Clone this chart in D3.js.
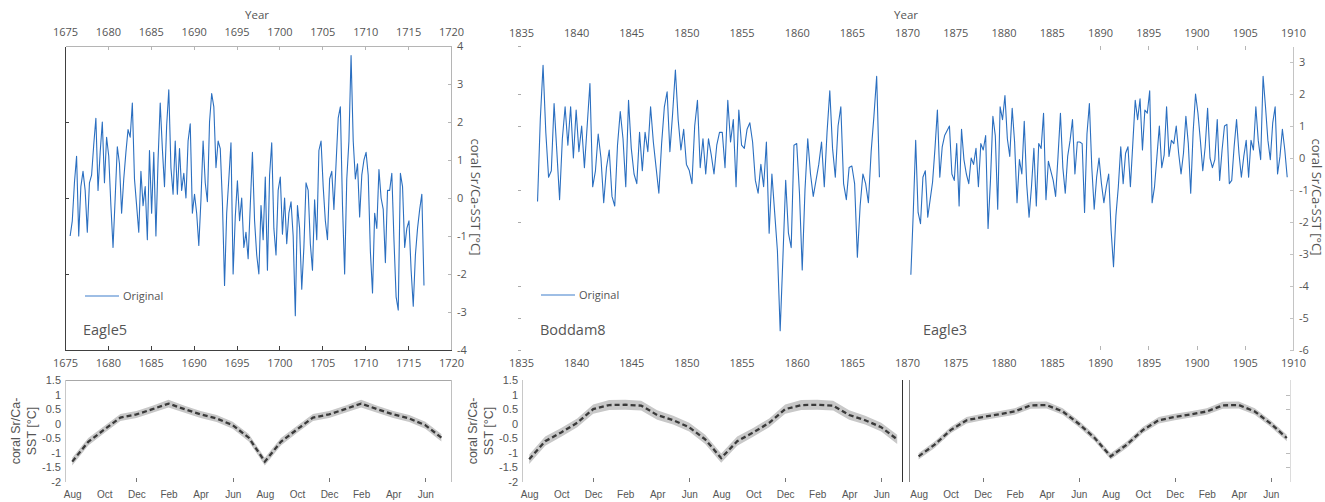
<!DOCTYPE html>
<html>
<head>
<meta charset="utf-8">
<script src="https://cdnjs.cloudflare.com/ajax/libs/d3/7.8.5/d3.min.js"></script>
<style>
	body { margin: 0; background: #fff; }
	svg { display: block; }
</style>
</head>
<body>
<div id="chart"></div>
<script>
///////////////////////////////////////////////////////////////////////////
/////////////////////////////// Data //////////////////////////////////////
///////////////////////////////////////////////////////////////////////////

//Quarterly coral Sr/Ca-SST anomalies
var stepYears = 0.25;
var eagle5Start = 1675.6, boddam8Start = 1836.5, eagle3Start = 1870.4;

var eagle5Sst = [
	-1.0, -0.6, 0.4, 1.1, -1.0, 0.3, 0.7, 0.2, -0.9, 0.4,
	0.6, 1.4, 2.1, 0.2, 1.2, 2.0, 0.4, 1.6, 1.1, -0.2,
	-1.3, 0.0, 1.35, 0.9, -0.4, 0.5, 1.2, 1.8, 1.6, 2.5,
	0.5, -0.2, -0.9, 0.7, -0.2, 0.3, -1.1, 1.25, -0.4, 1.2,
	-1.0, 1.0, 2.5, 1.3, 0.3, 1.9, 2.85, 0.8, 0.1, 1.5,
	0.1, 1.3, 0.2, 0.65, 0.0, 1.5, 1.95, -0.4, 0.1, -0.4,
	-1.25, -0.05, 1.5, 0.4, -0.1, 2.0, 2.75, 2.4, 0.8, 1.5,
	1.3, -0.1, -2.3, -0.4, 0.5, 1.45, -2.0, -0.5, 0.45, -0.6,
	0.0, -1.3, -0.9, -1.6, -0.2, 1.2, -0.6, -1.5, -2.0, -0.2,
	-1.1, 0.55, -1.9, 0.6, 1.45, -0.8, -1.5, 0.2, 0.55, -0.95,
	0.0, -1.2, -0.4, -0.1, -1.0, -3.1, -0.2, -0.8, -2.4, -1.3,
	0.4, 0.2, -1.2, -1.9, -0.05, -1.1, 1.25, 1.5, 0.3, -0.6,
	-1.1, 0.5, 0.7, -0.3, 0.9, 2.1, 2.4, -0.2, -2.0, 0.5,
	1.5, 3.75, 1.5, 0.5, 0.9, -0.5, 0.6, 1.0, 1.2, 0.6,
	-1.4, -2.5, -0.4, -0.8, 0.75, 0.0, -0.3, -1.7, 0.2, 0.2,
	0.65, -1.1, -2.6, -2.95, 0.65, 0.3, -1.3, -0.8, -0.6, -1.9,
	-2.85, -1.5, -0.8, -0.3, 0.1, -2.3
];

var boddam8Sst = [
	-1.36, 1.2, 2.9, 0.8, -0.6, -0.4, 1.7, 0.2, -1.3, 0.6,
	1.6, 0.4, 1.6, 0.0, 1.5, 0.2, 1.0, -0.3, 1.0, 2.33,
	-0.9, -0.4, 0.75, 0.0, -1.4, -0.3, 0.25, -1.2, -1.5, 0.4,
	1.45, 0.6, -0.9, 1.8, 0.3, -0.5, -0.8, 0.8, -0.4, 0.8,
	0.2, 1.6, 0.5, -0.3, -1.1, 0.45, 1.6, 2.07, 0.2, 1.4,
	2.75, 1.2, 0.25, 0.9, -0.2, -0.38, -0.8, 1.0, 1.8, -0.3,
	0.6, -0.5, 0.6, 0.1, -0.5, 0.4, 0.8, 0.8, -0.3, 1.8,
	0.5, 1.2, -0.9, 1.5, 0.4, 0.3, 0.9, 1.1, 0.5, -0.7,
	-1.1, -0.2, -0.9, 0.5, -2.35, -0.5, -1.7, -2.9, -5.4, -3.1,
	-0.7, -2.35, -2.8, 0.4, 0.45, -1.1, -3.5, -1.0, 0.6, -0.5,
	-1.2, -0.7, -0.2, 0.5, -0.9, 0.8, 2.1, 0.3, -0.6, 1.0,
	1.6, -0.8, -1.3, -0.3, -0.25, -0.8, -3.1, -1.5, -0.5, -0.8,
	-1.4, 0.2, 1.3, 2.55, -0.6
];

var eagle3Sst = [
	-3.65, -1.7, 0.55, -1.7, -2.05, -0.6, -0.4, -1.85, -1.3, -0.75,
	0.3, 1.5, -0.6, 0.35, 0.7, 0.85, 1.0, -0.5, -0.7, 0.45,
	-1.5, 0.9, -0.05, -0.5, -0.8, 0.0, -0.2, 0.3, -0.9, 0.45,
	0.25, 0.7, -2.2, -0.7, 1.3, 0.7, -1.6, 1.6, 1.2, 1.95,
	0.6, 0.05, 1.55, 0.5, -1.4, -0.05, -0.5, 1.15, -0.8, -1.85,
	-0.9, 0.3, -1.5, 0.45, 0.3, 1.4, -1.3, -0.1, -0.4, -0.7,
	-1.2, 0.05, 1.4, -0.3, -1.1, 0.05, 0.55, 1.2, -0.5, 0.5,
	0.5, 0.45, -1.7, 0.75, 1.7, -0.3, -1.6, -0.6, 0.0, -0.8,
	-1.4, -0.9, -0.5, -2.25, -3.4, -1.8, -0.9, 0.35, -0.8, 0.15,
	0.35, -0.9, 0.45, 1.8, 1.2, 1.85, 0.25, 1.5, 1.4, 2.1,
	-1.4, -0.9, 0.05, 1.0, -0.3, 0.1, 1.6, 0.05, 0.55, 0.45,
	1.0, 0.15, -0.5, 0.15, 1.3, 0.45, -1.1, 0.8, 2.0, 1.4,
	0.55, -0.4, 0.35, 1.55, 0.0, -0.3, -0.05, 1.2, -0.7, 0.25,
	1.0, 1.05, -0.8, -0.7, 0.35, 1.2, 0.15, -0.6, 0.05, 0.55,
	-0.6, 0.55, 0.25, 1.6, 0.55, -0.05, 2.55, 1.6, 0.55, -0.05,
	1.1, 1.6, -0.5, 0.05, 0.9, 0.25, -0.6
];

//Mean seasonal cycle, two cycles from August
var monthNames = ["Aug", "Sep", "Oct", "Nov", "Dec", "Jan", "Feb", "Mar", "Apr", "May", "Jun", "Jul",
	"Aug", "Sep", "Oct", "Nov", "Dec", "Jan", "Feb", "Mar", "Apr", "May", "Jun", "Jul"];

var eagle5Cycle = [-1.3, -0.62, -0.2, 0.21, 0.32, 0.5, 0.69, 0.5, 0.32, 0.18, -0.05, -0.48,
	-1.3, -0.62, -0.2, 0.21, 0.32, 0.5, 0.69, 0.5, 0.32, 0.18, -0.05, -0.48];
var eagle5CycleSd = [0.13, 0.13, 0.12, 0.12, 0.12, 0.12, 0.13, 0.12, 0.12, 0.12, 0.12, 0.13,
	0.13, 0.13, 0.12, 0.12, 0.12, 0.12, 0.13, 0.12, 0.12, 0.12, 0.12, 0.13];

var boddam8Cycle = [-1.22, -0.6, -0.3, 0.03, 0.5, 0.64, 0.65, 0.62, 0.3, 0.12, -0.12, -0.54,
	-1.18, -0.6, -0.3, 0.03, 0.5, 0.64, 0.65, 0.62, 0.3, 0.12, -0.12, -0.54];
var boddam8CycleSd = [0.16, 0.16, 0.15, 0.15, 0.16, 0.17, 0.17, 0.17, 0.16, 0.15, 0.15, 0.16,
	0.16, 0.16, 0.15, 0.15, 0.16, 0.17, 0.17, 0.17, 0.16, 0.15, 0.15, 0.16];

var eagle3Cycle = [-1.12, -0.72, -0.22, 0.12, 0.23, 0.32, 0.42, 0.63, 0.64, 0.42, 0.0, -0.49,
	-1.12, -0.72, -0.22, 0.12, 0.23, 0.32, 0.42, 0.63, 0.64, 0.42, 0.0, -0.49];
var eagle3CycleSd = [0.11, 0.11, 0.11, 0.11, 0.11, 0.11, 0.11, 0.12, 0.12, 0.11, 0.11, 0.11,
	0.11, 0.11, 0.11, 0.11, 0.11, 0.11, 0.11, 0.12, 0.12, 0.11, 0.11, 0.11];

//Tick values and labels
var eagle5YearTicks = [1675, 1680, 1685, 1690, 1695, 1700, 1705, 1710, 1715, 1720];
var boddam8YearTicks = [1835, 1840, 1845, 1850, 1855, 1860, 1865];
var eagle3YearTicks = [1870, 1875, 1880, 1885, 1890, 1895, 1900, 1905, 1910];
var eagle3TickMarks = [1890, 1895, 1900, 1905];
var eagle5SstTicks = [-4, -3, -2, -1, 0, 1, 2, 3, 4];
var eagle5LeftTicks = [-2, 0, 2];
var boddam8LeftTicks = [3.5, 2, 1, -1, -2, -4, -5, -6];
var eagle3SstTicks = [-6, -5, -4, -3, -2, -1, 0, 1, 2, 3];
var cycleTicks = [1.5, 1, 0.5, 0, -0.5, -1, -1.5, -2];
var cycleRightTicks = [1, 0.5, -1, -1.5];
var monthLabelIdx = [0, 2, 4, 6, 8, 10, 12, 14, 16, 18, 20, 22];
var monthTickIdx = [4, 10, 16, 22];

///////////////////////////////////////////////////////////////////////////
//////////////////////////// Set up the SVG ///////////////////////////////
///////////////////////////////////////////////////////////////////////////

var svg = d3.select("#chart").append("svg")
	.attr("width", 1325)
	.attr("height", 502);

var topFont = "'Open Sans', 'DejaVu Sans', sans-serif",
	cycleFont = "'Liberation Sans', Arial, sans-serif",
	textColor = "#555",
	lineBlue = "#2b6fc0";

var topTop = 46, topBottom = 350,
	cycTop = 380, cycBottom = 482;

//Scales of the three records
var xE5 = d3.scaleLinear().domain([1675, 1720]).range([65, 451]),
	yE5 = d3.scaleLinear().domain([-4, 4]).range([topBottom, topTop]);
var xB8 = d3.scaleLinear().domain([1835, 1870]).range([521, 907]),
	yB8 = d3.scaleLinear().domain([-6, 3.5]).range([topBottom, topTop]);
var xE3 = d3.scaleLinear().domain([1870, 1910]).range([907, 1293]),
	yE3 = yB8;

//Scales of the seasonal cycles
var yCyc = d3.scaleLinear().domain([-2, 1.5]).range([cycBottom, cycTop]);
var xC1 = d3.scaleLinear().domain([-0.45, 23.6]).range([65, 451]),
	xC2 = d3.scaleLinear().domain([-0.45, 23.3]).range([522, 902]),
	xC3 = d3.scaleLinear().domain([-0.6, 23.2]).range([909, 1290]);

///////////////////////////////////////////////////////////////////////////
//////////////////////////// Helper functions /////////////////////////////
///////////////////////////////////////////////////////////////////////////

//Put an axis in place and give it the right look
function addAxis(axis, tx, ty, lineColor, font, size, keepDomain) {
	var g = svg.append("g")
		.attr("transform", "translate(" + tx + "," + ty + ")")
		.call(axis);
	if (!keepDomain) g.select(".domain").remove();
	g.select(".domain").attr("stroke", lineColor).style("shape-rendering", "crispEdges");
	g.selectAll(".tick line").attr("stroke", lineColor).style("shape-rendering", "crispEdges");
	g.selectAll(".tick text")
		.attr("fill", textColor)
		.style("font-family", font)
		.style("font-size", size + "px");
	return g;
}

function vLine(x, y1, y2, color) {
	svg.append("line")
		.attr("x1", x).attr("x2", x)
		.attr("y1", y1).attr("y2", y2)
		.style("stroke", color)
		.style("shape-rendering", "crispEdges");
}

function hLine(x1, x2, y, color) {
	svg.append("line")
		.attr("x1", x1).attr("x2", x2)
		.attr("y1", y).attr("y2", y)
		.style("stroke", color)
		.style("shape-rendering", "crispEdges");
}

function drawSeries(values, start, x, y) {
	var line = d3.line()
		.x(function(d, i) { return x(start + i * stepYears); })
		.y(function(d) { return y(d); });
	svg.append("path")
		.datum(values)
		.attr("d", line)
		.attr("fill", "none")
		.attr("stroke", lineBlue)
		.attr("stroke-width", 1.1)
		.attr("stroke-linejoin", "round");
}

function drawCycle(values, sd, x) {
	var area = d3.area()
		.x(function(d, i) { return x(i); })
		.y0(function(d, i) { return yCyc(d - sd[i]); })
		.y1(function(d, i) { return yCyc(d + sd[i]); });
	var line = d3.line()
		.x(function(d, i) { return x(i); })
		.y(function(d) { return yCyc(d); });
	svg.append("path")
		.datum(values)
		.attr("d", area)
		.attr("fill", "#c8c8c8");
	svg.append("path")
		.datum(values)
		.attr("d", line)
		.attr("fill", "none")
		.attr("stroke", "#3a3a3a")
		.attr("stroke-width", 2.3)
		.attr("stroke-dasharray", "5,3");
}

function plainLabel(d) { return String(d); }

function addText(txt, x, y, size, font, rotate, anchor) {
	svg.append("text")
		.attr("transform", "translate(" + x + "," + y + ")" + (rotate ? " rotate(" + rotate + ")" : ""))
		.attr("dy", "0.35em")
		.style("text-anchor", anchor || "middle")
		.attr("fill", textColor)
		.style("font-family", font)
		.style("font-size", size + "px")
		.text(txt);
}

function addLegend(x, y) {
	svg.append("line")
		.attr("x1", x).attr("x2", x + 34)
		.attr("y1", y).attr("y2", y)
		.style("stroke", "#7ea8dc")
		.style("stroke-width", 1.6);
	addText("Original", x + 38, y, 11, topFont, 0, "start");
}

///////////////////////////////////////////////////////////////////////////
//////////////////////////// Eagle5 record ////////////////////////////////
///////////////////////////////////////////////////////////////////////////

//Grey top and right lines
addAxis(d3.axisTop(xE5).tickValues(eagle5YearTicks.slice(1, -1)).tickSize(-4).tickSizeOuter(0).tickFormat(""),
	0, topTop, "#b5b5b5", topFont, 11, true);
addAxis(d3.axisRight(yE5).tickValues(eagle5SstTicks).tickSize(-3).tickSizeOuter(0).tickPadding(6).tickFormat(plainLabel),
	451, 0, "#b5b5b5", topFont, 11, true);
//Dark bottom and left lines
addAxis(d3.axisBottom(xE5).tickValues(eagle5YearTicks.slice(1, -1)).tickSize(-4).tickSizeOuter(0).tickFormat(""),
	0, topBottom, "#404040", topFont, 11, true);
addAxis(d3.axisLeft(yE5).tickValues(eagle5LeftTicks).tickSize(-4).tickSizeOuter(0).tickFormat(""),
	65, 0, "#404040", topFont, 11, true);
//Year labels, the top ones lifted a little to clear the "4"
addAxis(d3.axisTop(xE5).tickValues(eagle5YearTicks).tickSize(0).tickPadding(10).tickFormat(plainLabel),
	0, topTop, "#555", topFont, 11);
addAxis(d3.axisBottom(xE5).tickValues(eagle5YearTicks).tickSize(0).tickPadding(9).tickFormat(plainLabel),
	0, topBottom, "#555", topFont, 11);

drawSeries(eagle5Sst, eagle5Start, xE5, yE5);

addText("Year", 257, 15, 11.5, topFont);
addText("coral Sr/Ca-SST [°C]", 476, 197, 13, topFont, 90);
addLegend(85, 296);
addText("Eagle5", 83, 330, 14.5, topFont, 0, "start");

///////////////////////////////////////////////////////////////////////////
//////////////////////////// Boddam8 record ///////////////////////////////
///////////////////////////////////////////////////////////////////////////

addAxis(d3.axisLeft(yB8).tickValues(boddam8LeftTicks).tickSize(3).tickFormat(""), 521, 0, "#aaa", topFont, 11);
addAxis(d3.axisTop(xB8).tickValues(boddam8YearTicks).tickSize(0).tickPadding(9).tickFormat(plainLabel),
	0, topTop, "#555", topFont, 11);
addAxis(d3.axisBottom(xB8).tickValues(boddam8YearTicks).tickSize(0).tickPadding(9).tickFormat(plainLabel),
	0, topBottom, "#555", topFont, 11);

drawSeries(boddam8Sst, boddam8Start, xB8, yB8);

addLegend(541, 295);
addText("Boddam8", 540, 330, 14.5, topFont, 0, "start");

///////////////////////////////////////////////////////////////////////////
//////////////////////////// Eagle3 record ////////////////////////////////
///////////////////////////////////////////////////////////////////////////

addAxis(d3.axisTop(xE3).tickValues(eagle3TickMarks).tickSize(-4).tickFormat(""), 0, topTop, "#b5b5b5", topFont, 11);
addAxis(d3.axisBottom(xE3).tickValues(eagle3TickMarks).tickSize(-4).tickFormat(""), 0, topBottom, "#b5b5b5", topFont, 11);
addAxis(d3.axisRight(yE3).tickValues(eagle3SstTicks).tickSize(-3).tickSizeOuter(0).tickPadding(6).tickFormat(plainLabel),
	1293, 0, "#c4c4c4", topFont, 11, true);
addAxis(d3.axisTop(xE3).tickValues(eagle3YearTicks).tickSize(0).tickPadding(9).tickFormat(plainLabel),
	0, topTop, "#555", topFont, 11);
addAxis(d3.axisBottom(xE3).tickValues(eagle3YearTicks).tickSize(0).tickPadding(9).tickFormat(plainLabel),
	0, topBottom, "#555", topFont, 11);

drawSeries(eagle3Sst, eagle3Start, xE3, yE3);

addText("Year", 906, 15, 11.5, topFont);
addText("coral Sr/Ca-SST [°C]", 1317, 197, 13, topFont, 90);
addText("Eagle3", 923, 330, 14.5, topFont, 0, "start");

///////////////////////////////////////////////////////////////////////////
/////////////////////////// Seasonal cycles ///////////////////////////////
///////////////////////////////////////////////////////////////////////////

function monthAxis(x) {
	addAxis(d3.axisBottom(x).tickValues(monthLabelIdx).tickSize(0).tickPadding(9)
		.tickFormat(function(i) { return monthNames[i]; }), 0, cycBottom, "#555", cycleFont, 10);
	addAxis(d3.axisBottom(x).tickValues(monthTickIdx).tickSize(-4).tickFormat(""), 0, cycBottom, "#777", cycleFont, 10);
}

//Eagle5 cycle
hLine(65, 451, cycTop, "#a8a8a8");
vLine(65, cycTop, cycBottom, "#c8c8c8");
vLine(451, cycTop, cycBottom, "#c0c0c0");
addAxis(d3.axisLeft(yCyc).tickValues(cycleTicks).tickSize(0).tickPadding(4).tickFormat(plainLabel),
	65, 0, "#555", cycleFont, 11);
monthAxis(xC1);
drawCycle(eagle5Cycle, eagle5CycleSd, xC1);
addText("coral Sr/Ca-", 16, 431, 12.5, cycleFont, -90);
addText("SST [°C]", 32, 431, 12.5, cycleFont, -90);

//Boddam8 cycle
vLine(522, cycTop, cycBottom, "#c8c8c8");
vLine(902, cycTop, cycBottom, "#333");
addAxis(d3.axisLeft(yCyc).tickValues(cycleTicks).tickSize(0).tickPadding(4).tickFormat(plainLabel),
	522, 0, "#555", cycleFont, 11);
monthAxis(xC2);
drawCycle(boddam8Cycle, boddam8CycleSd, xC2);
addText("coral Sr/Ca-", 473, 431, 12.5, cycleFont, -90);
addText("SST [°C]", 489, 431, 12.5, cycleFont, -90);

//Eagle3 cycle
vLine(909, cycTop, cycBottom, "#8a8a8a");
vLine(1290, cycTop, cycBottom, "#dcdcdc");
addAxis(d3.axisRight(yCyc).tickValues(cycleRightTicks).tickSize(-4).tickFormat(""), 1290, 0, "#bbb", cycleFont, 11);
monthAxis(xC3);
drawCycle(eagle3Cycle, eagle3CycleSd, xC3);
</script>
</body>
</html>
